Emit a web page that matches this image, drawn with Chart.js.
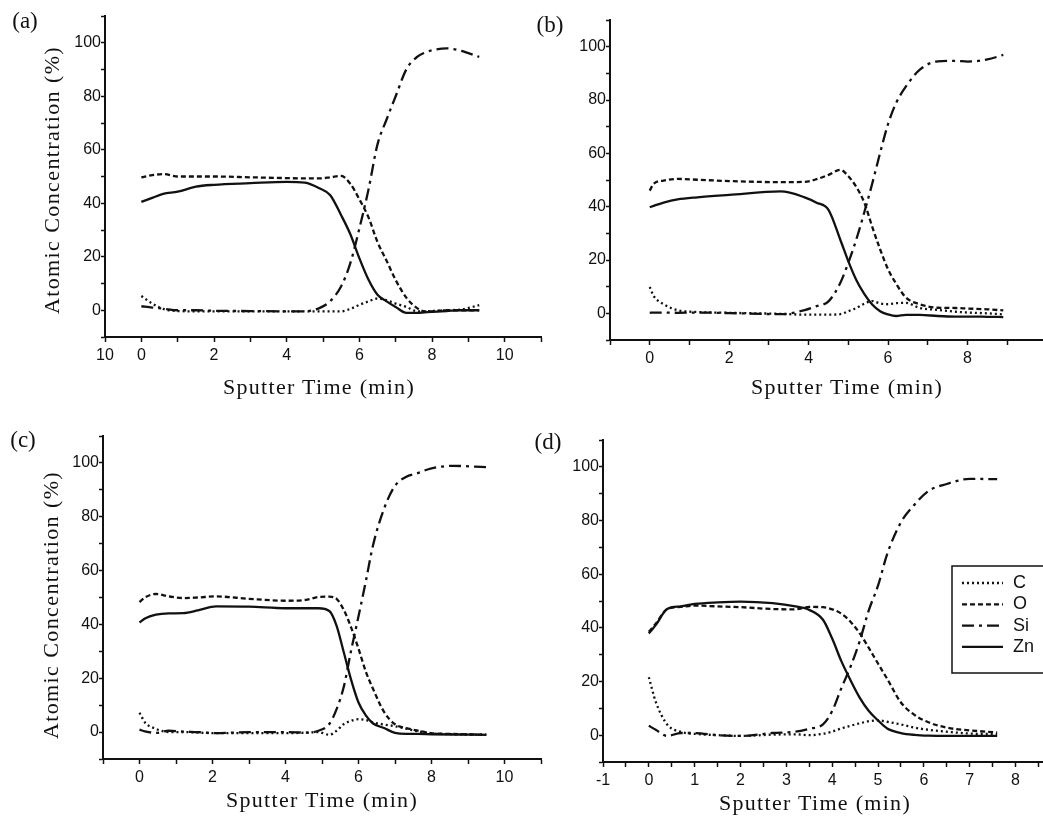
<!DOCTYPE html>
<html>
<head>
<meta charset="utf-8">
<title>Sputter depth profiles</title>
<script src="https://cdn.jsdelivr.net/npm/chart.js@4.4.0/dist/chart.umd.min.js"></script>
<style>
  html, body { margin: 0; padding: 0; background: #fff; overflow: hidden; }
  #page { position: relative; width: 1043px; height: 825px; }
  canvas { position: absolute; }
  .lbl {
    position: absolute;
    font-family: "Liberation Serif", "Times New Roman", serif;
    color: #111;
    white-space: nowrap;
    transform: translate(-50%, -50%);
  }
  .panel { font-size: 23px; }
  .xt { font-size: 22px; letter-spacing: 1.3px; }
  .yt { font-size: 22px; letter-spacing: 1.4px; transform: translate(-50%, -50%) rotate(-90deg); }
</style>
</head>
<body>
<div id="page">
  <canvas id="chartA" width="545" height="400" style="left:0;top:0"></canvas>
  <canvas id="chartB" width="523" height="400" style="left:520px;top:0"></canvas>
  <canvas id="chartC" width="545" height="425" style="left:0;top:400px"></canvas>
  <canvas id="chartD" width="523" height="425" style="left:520px;top:400px"></canvas>

  <div class="lbl panel" style="left:25px;top:21px">(a)</div>
  <div class="lbl panel" style="left:550px;top:25px">(b)</div>
  <div class="lbl panel" style="left:23px;top:440px">(c)</div>
  <div class="lbl panel" style="left:548px;top:442px">(d)</div>

  <div class="lbl yt" style="left:52px;top:180px">Atomic Concentration (%)</div>
  <div class="lbl yt" style="left:51px;top:605px">Atomic Concentration (%)</div>

  <div class="lbl xt" style="left:319px;top:387px">Sputter Time (min)</div>
  <div class="lbl xt" style="left:847px;top:387px">Sputter Time (min)</div>
  <div class="lbl xt" style="left:322px;top:800px">Sputter Time (min)</div>
  <div class="lbl xt" style="left:815px;top:803px">Sputter Time (min)</div>
</div>

<script>
// ---- data ----
// (a)
const aTime = [0, 0.3, 0.6, 1, 1.5, 2, 3, 4, 4.5, 4.9, 5.2, 5.5, 5.75, 6.0, 6.25, 6.5, 6.75, 7.0, 7.3, 7.6, 7.8, 8.0, 8.4, 8.8, 9.3];
const aC  = [5.3, 2.5, 0.5, -0.3, -0.4, -0.4, -0.4, -0.4, -0.4, -0.4, -0.4, -0.4, 0.5, 2, 3.3, 4.4, 3.7, 2.5, 1.2, -0.4, -0.4, -0.3, 0, 0.3, 1.9];
const aO  = [49.7, 50.5, 50.9, 50, 50, 50, 49.7, 49.4, 49.3, 49.3, 49.7, 50.2, 47.3, 41.5, 34.8, 25.5, 18.5, 11.3, 4.6, 0.7, -0.4, -0.4, 0, 0, 0];
const aSi = [1.5, 1, 0.6, 0, 0, -0.2, -0.3, -0.4, -0.4, 0.8, 3.4, 9, 17.5, 30.5, 45, 62, 71.3, 80, 90.2, 94.8, 96.3, 97.2, 97.9, 97, 94.7];
const aZn = [40.5, 42, 43.5, 44.3, 46.2, 46.9, 47.5, 48, 47.7, 45.6, 43, 35.5, 28.5, 19.5, 11.5, 5.8, 3.3, 1.2, -1, -1, -0.8, -0.6, -0.3, 0, 0];

// (b)
const bTime = [0, 0.1, 0.35, 0.7, 1.2, 2, 3.3, 3.9, 4.2, 4.5, 4.8, 5.0, 5.2, 5.4, 5.6, 5.8, 6.0, 6.2, 6.45, 6.8, 7.25, 7.7, 8.0, 8.5, 8.9];
const bC  = [9.9, 6.5, 3.4, 1.2, 0.5, 0.2, -0.2, -0.5, -0.5, -0.5, -0.3, 0.8, 2, 3.6, 4.6, 3.7, 3.4, 3.8, 3.9, 2, 1.3, 0.6, 0.3, 0, -0.4];
const bO  = [46, 48.6, 49.8, 50.4, 50.1, 49.6, 49.2, 49.3, 50.3, 51.9, 53.8, 51.4, 47.4, 41.6, 32.5, 24, 16.5, 11.2, 5.9, 3.4, 2.1, 2, 1.8, 1.5, 1.1];
const bSi = [0.2, 0.3, 0.3, 0.2, 0.3, 0.1, -0.3, 1.2, 2.7, 4.5, 11.5, 19, 27.7, 37.8, 48.6, 60.2, 71, 78.8, 85.1, 91.4, 94.5, 94.7, 94.4, 95.2, 96.9];
const bZn = [39.8, 40.3, 41.5, 42.7, 43.5, 44.4, 45.7, 43.5, 41.5, 38.8, 27.5, 19.5, 12.5, 7.3, 3.3, 0.8, -0.4, -1, -0.6, -0.6, -1, -1.2, -1.2, -1.3, -1.4];

// (c)
const cTime = [0, 0.15, 0.45, 0.8, 1.2, 1.6, 2.1, 3, 4, 4.6, 4.9, 5.2, 5.4, 5.6, 5.8, 6.0, 6.2, 6.4, 6.7, 7.0, 7.3, 7.6, 8.0, 8.6, 9.5];
const cC  = [7.2, 3.6, 1.2, 0, 0, -0.2, -0.4, -0.4, -0.4, -0.2, 0, -1, 0.5, 3, 4.2, 4.8, 4.5, 3.6, 2.8, 2.2, 1.3, 0.4, -0.5, -0.8, -1];
const cO  = [48.3, 50, 51.3, 50.4, 49.8, 50, 50.4, 49.5, 48.8, 49.2, 50.2, 50.3, 49.5, 45.3, 38.8, 31, 22.5, 16, 7.5, 2.9, 1.5, 0.6, -0.4, -0.7, -1];
const cSi = [0.9, 0.3, -0.3, 0.5, 0.2, 0, -0.4, 0, 0, -0.2, 0.5, 3, 8.5, 17, 30.5, 43, 56, 69.5, 83, 91.5, 94.8, 96.1, 98, 98.9, 98.4];
const cZn = [40.7, 42.2, 43.6, 44.1, 44.2, 45.2, 46.7, 46.6, 46, 46, 46, 45, 39.5, 29.5, 19.3, 11, 6.2, 3.2, 1.5, -0.3, -0.7, -0.7, -0.8, -0.9, -1];

// (d)
const dTime = [0, 0.15, 0.4, 0.7, 1, 1.5, 2, 2.7, 3.2, 3.5, 3.8, 4.0, 4.2, 4.4, 4.6, 4.8, 5.0, 5.2, 5.5, 5.8, 6.1, 6.5, 7.0, 7.6];
const dC  = [21.6, 12.5, 4, 1.2, 0.5, 0, -0.3, 0.2, 0.3, 0, 0.5, 1.3, 2.5, 3.5, 4.4, 5.2, 5.5, 5, 4, 2.8, 2, 1.3, 0.6, 0.4];
const dO  = [38.5, 41.5, 47, 47.8, 48.3, 48, 47.7, 47, 46.9, 47.8, 47.7, 46.9, 45.3, 42.3, 38, 32.5, 26.7, 21, 12.2, 7.5, 4.8, 2.8, 1.8, 1];
const dSi = [3.5, 2, -0.3, 0.8, 0.8, 0, -0.3, 0.8, 1.3, 2.4, 4, 9, 17.5, 25.5, 35, 46.6, 55.7, 67.5, 79.3, 86, 91, 93.6, 95.5, 95.4];
const dZn = [37.9, 41, 47, 48, 48.9, 49.5, 49.8, 49.2, 48, 46.7, 43, 36, 27.6, 20.5, 14, 9, 5.5, 2.5, 0.8, 0.1, -0.2, -0.3, -0.3, -0.3];

// ---- axis ticks ----
const yTicks  = [-10, 0, 10, 20, 30, 40, 50, 60, 70, 80, 90, 100, 110];
const yLabels = ["", "0", "", "20", "", "40", "", "60", "", "80", "", "100", ""];

const xTicksA  = [-1, 0, 1, 2, 3, 4, 5, 6, 7, 8, 9, 10, 11];
const xLabelsA = ["10", "0", "", "2", "", "4", "", "6", "", "8", "", "10", ""];
const xTicksB  = [-1, 0, 1, 2, 3, 4, 5, 6, 7, 8, 9];
const xLabelsB = ["", "0", "", "2", "", "4", "", "6", "", "8", ""];
const xTicksC  = [-1, 0, 1, 2, 3, 4, 5, 6, 7, 8, 9, 10, 11];
const xLabelsC = ["", "0", "", "2", "", "4", "", "6", "", "8", "", "10", ""];
const xTicksD  = [-1, -0.5, 0, 0.5, 1, 1.5, 2, 2.5, 3, 3.5, 4, 4.5, 5, 5.5, 6, 6.5, 7, 7.5, 8, 8.5];
const xLabelsD = ["-1", "", "0", "", "1", "", "2", "", "3", "", "4", "", "5", "", "6", "", "7", "", "8", ""];

const LINE = "#111";
const dashes = { C: [2, 3], O: [5, 3], Si: [12, 5, 3, 5], Zn: [] };
const tickFont = { family: '"Liberation Sans", Arial, sans-serif', size: 16 };

function buildDatasets(time, c, o, si, zn) {
  const sets = [["C", c], ["O", o], ["Si", si], ["Zn", zn]];
  return sets.map(([name, vals]) => ({
    label: name,
    data: time.map((t, i) => ({ x: t, y: vals[i] })),
    borderColor: LINE,
    borderWidth: 2.3,
    borderDash: dashes[name],
    pointRadius: 0,
    cubicInterpolationMode: "monotone",
    fill: false,
  }));
}

// boxed legend drawn inside panel (d)
const boxLegend = {
  id: "boxLegend",
  afterDraw(chart, args, opts) {
    const ctx = chart.ctx;
    ctx.save();
    ctx.strokeStyle = LINE;
    ctx.lineWidth = 1.5;
    ctx.strokeRect(opts.x, opts.y, opts.w, opts.h);
    ctx.font = '18px "Liberation Sans", Arial, sans-serif';
    ctx.textBaseline = "middle";
    ctx.fillStyle = LINE;
    chart.data.datasets.forEach((ds, i) => {
      const yy = opts.y + opts.first + i * opts.step;
      ctx.setLineDash(ds.borderDash);
      ctx.lineWidth = 2.3;
      ctx.beginPath();
      ctx.moveTo(opts.x + 10, yy);
      ctx.lineTo(opts.x + 51, yy);
      ctx.stroke();
      ctx.setLineDash([]);
      ctx.fillText(ds.label, opts.x + 61, yy);
    });
    ctx.restore();
  },
};

function makeChart(id, p) {
  return new Chart(document.getElementById(id), {
    type: "line",
    data: { datasets: buildDatasets(p.time, p.c, p.o, p.si, p.zn) },
    options: {
      responsive: false,
      animation: false,
      events: [],
      layout: { padding: { top: p.padTop, right: p.padRight, left: 0, bottom: 0 } },
      plugins: {
        legend: { display: false },
        tooltip: { enabled: false },
        boxLegend: p.legend || {},
      },
      scales: {
        x: {
          type: "linear",
          min: p.xMin,
          max: p.xMax,
          afterBuildTicks: (axis) => { axis.ticks = p.xTicks.map((v) => ({ value: v })); },
          afterFit: (axis) => { axis.height = p.xHeight; },
          border: { color: LINE, width: 2 },
          grid: { drawOnChartArea: false, color: LINE, tickLength: 5, tickWidth: 1.5 },
          ticks: {
            autoSkip: false, maxRotation: 0, padding: 4, color: LINE, font: tickFont,
            callback: (v, i) => p.xLabels[i],
          },
        },
        y: {
          type: "linear",
          min: -10,
          max: 110,
          afterBuildTicks: (axis) => { axis.ticks = yTicks.map((v) => ({ value: v })); },
          afterFit: (axis) => { axis.width = p.yWidth; },
          border: { color: LINE, width: 2 },
          grid: { drawOnChartArea: false, color: LINE, tickLength: 4, tickWidth: 1.5 },
          ticks: {
            autoSkip: false, padding: 0, color: LINE, font: tickFont,
            callback: (v, i) => yLabels[i],
          },
        },
      },
    },
    plugins: p.legend ? [boxLegend] : [],
  });
}

makeChart("chartA", {
  time: aTime, c: aC, o: aO, si: aSi, zn: aZn,
  xMin: -1, xMax: 11, xTicks: xTicksA, xLabels: xLabelsA,
  yWidth: 105, xHeight: 63, padTop: 16, padRight: 4,
});
makeChart("chartB", {
  time: bTime, c: bC, o: bO, si: bSi, zn: bZn,
  xMin: -1, xMax: 9.9, xTicks: xTicksB, xLabels: xLabelsB,
  yWidth: 90, xHeight: 60, padTop: 20, padRight: 0,
});
makeChart("chartC", {
  time: cTime, c: cC, o: cO, si: cSi, zn: cZn,
  xMin: -1, xMax: 11, xTicks: xTicksC, xLabels: xLabelsC,
  yWidth: 103, xHeight: 66, padTop: 36, padRight: 4,
});
makeChart("chartD", {
  time: dTime, c: dC, o: dO, si: dSi, zn: dZn,
  xMin: -1, xMax: 8.6, xTicks: xTicksD, xLabels: xLabelsD,
  yWidth: 83, xHeight: 63, padTop: 40, padRight: 0,
  legend: { x: 432, y: 166, w: 100, h: 107, first: 17, step: 21.3 },
});
</script>
</body>
</html>
